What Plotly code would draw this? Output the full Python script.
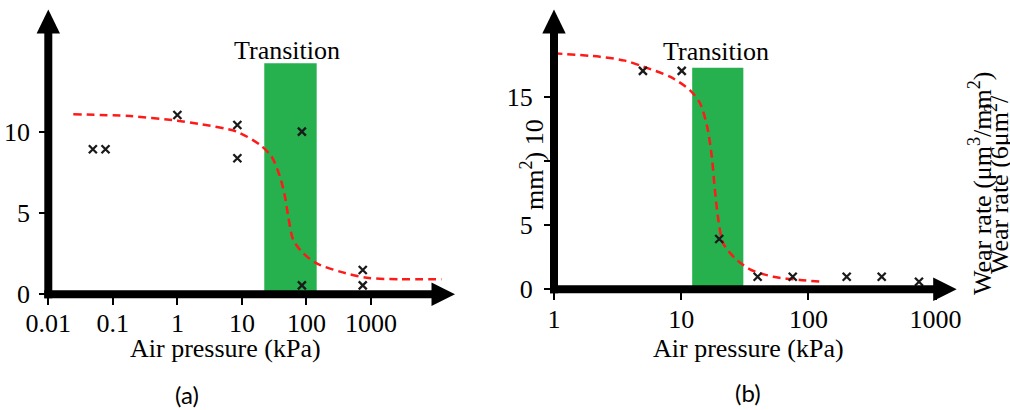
import plotly.graph_objects as go

W, H = 1010, 410

# ---------------- data: panel (a) ----------------
a_pressure = [0.049, 0.077, 1.0, 8.5, 8.5, 85, 85, 745, 745]
a_wear = [8.95, 8.95, 11.07, 10.45, 8.40, 10.04, 0.55, 1.50, 0.55]
a_fit_pressure = [0.0244, 0.185, 1.0, 2.24, 8.3, 19.1, 28.9, 38.9, 46.5, 52.3,
                  62.5, 89.3, 144, 331, 857, 2812, 12450]
a_fit_wear = [11.11, 11.0, 10.72, 10.51, 10.04, 9.22, 8.49, 7.26, 6.02, 4.79,
              3.35, 2.53, 1.91, 1.40, 1.02, 0.93, 0.93]
a_transition = [22.2, 144]
a_transition_top = 14.26
a_xticks = [0.01, 0.1, 1, 10, 100, 1000]
a_xticktext = ["0.01", "0.1", "1", "10", "100", "1000"]
a_yticks = [0, 5, 10]
a_yticktext = ["0", "5", "10"]

# ---------------- data: panel (b) ----------------
b_pressure = [5.0, 10.1, 19.9, 39.9, 75.3, 200, 377, 740]
b_wear = [17.0, 17.0, 3.91, 0.97, 0.97, 0.97, 0.97, 0.58]
b_fit_pressure = [1.0, 2.3, 3.62, 5.04, 8.17, 11.7, 14.06, 16.0, 17.4, 18.4,
                  19.6, 21.4, 26.5, 34.7, 53, 85.9, 131]
b_fit_wear = [18.37, 18.1, 17.80, 17.33, 16.55, 15.51, 14.48, 12.66, 10.32, 7.73,
              5.39, 3.57, 2.41, 1.55, 0.97, 0.72, 0.58]
b_transition = [12.2, 30.8]
b_transition_top = 17.25
b_xticks = [1, 10, 100, 1000]
b_xticktext = ["1", "10", "100", "1000"]
b_yticks = [0, 5, 10, 15]
b_yticktext = ["0", "5", "", "15"]

SERIF = "Liberation Serif"
SANS = "Lato"
RED = "#FF1A1A"
GREEN = "#26B04E"


def px(x):
    return x / W


def py(y):
    return 1 - y / H


fig = go.Figure()

for xs, ys, fx, fy, xa, ya in [
    (a_pressure, a_wear, a_fit_pressure, a_fit_wear, "x", "y"),
    (b_pressure, b_wear, b_fit_pressure, b_fit_wear, "x2", "y2"),
]:
    fig.add_trace(go.Scatter(
        x=fx, y=fy, mode="lines", xaxis=xa, yaxis=ya,
        line=dict(color=RED, width=2.5, dash="8px,5px", shape="spline", smoothing=0.8),
        showlegend=False, hoverinfo="skip"))
    fig.add_trace(go.Scatter(
        x=xs, y=ys, mode="markers", xaxis=xa, yaxis=ya,
        marker=dict(symbol="x-thin", size=8, line=dict(color="#1a1a1a", width=2.3)),
        showlegend=False, hoverinfo="skip"))

# transition bands
fig.add_shape(type="rect", xref="x", yref="y", x0=a_transition[0], x1=a_transition[1],
              y0=0, y1=a_transition_top, fillcolor=GREEN, line=dict(width=0), layer="below")
fig.add_shape(type="rect", xref="x2", yref="y2", x0=b_transition[0], x1=b_transition[1],
              y0=0, y1=b_transition_top, fillcolor=GREEN, line=dict(width=0), layer="below")

# thick axis lines with arrowheads (decorations, pixel based)
LW = 8


def axis_arrows(ox, oy, ytip, xtip):
    fig.add_shape(type="rect", xref="paper", yref="paper",
                  x0=px(ox - LW / 2), x1=px(ox + LW / 2), y0=py(oy + LW / 2), y1=py(ytip + 23),
                  fillcolor="black", line=dict(width=0), layer="above")
    fig.add_shape(type="path", xref="paper", yref="paper",
                  path=f"M {px(ox - 11.7)} {py(ytip + 24)} L {px(ox + 11.7)} {py(ytip + 24)} L {px(ox)} {py(ytip)} Z",
                  fillcolor="black", line=dict(width=0), layer="above")
    fig.add_shape(type="rect", xref="paper", yref="paper",
                  x0=px(ox - LW / 2), x1=px(xtip - 22), y0=py(oy + LW / 2), y1=py(oy - LW / 2),
                  fillcolor="black", line=dict(width=0), layer="above")
    fig.add_shape(type="path", xref="paper", yref="paper",
                  path=f"M {px(xtip - 23.5)} {py(oy - 11.7)} L {px(xtip - 23.5)} {py(oy + 11.7)} L {px(xtip)} {py(oy)} Z",
                  fillcolor="black", line=dict(width=0), layer="above")


A_L, A_R, A_T, A_B = 48.3, 455.0, 9.5, 294.3
B_L, B_R, B_T, B_B = 554.0, 956.7, 9.5, 289.2
axis_arrows(A_L, A_B, A_T, A_R)
axis_arrows(B_L, B_B, B_T, B_R)

tickfont = dict(family=SERIF, size=26, color="black")
common = dict(showgrid=False, zeroline=False, showline=False, ticks="outside",
              tickwidth=2, tickcolor="black", tickfont=tickfont, automargin=False,
              fixedrange=True)

fig.update_layout(
    width=W, height=H, template="none",
    font=dict(family=SERIF, color="black"),
    margin=dict(l=0, r=0, t=0, b=0, autoexpand=False),
    paper_bgcolor="white", plot_bgcolor="rgba(0,0,0,0)",
    xaxis=dict(type="log", range=[-2, -2 + (A_R - A_L) / 64.54], domain=[px(A_L), px(A_R)],
               tickvals=a_xticks, ticktext=a_xticktext, ticklen=10, ticklabelstandoff=-5,
               anchor="y", **common),
    yaxis=dict(range=[0, (A_B - A_T) / 16.2], domain=[py(A_B), py(A_T)],
               tickvals=a_yticks, ticktext=a_yticktext, ticklen=8, ticklabelstandoff=4,
               anchor="x", **common),
    xaxis2=dict(type="log", range=[0, (B_R - B_L) / 127.2], domain=[px(B_L), px(B_R)],
                tickvals=b_xticks, ticktext=b_xticktext, ticklen=10, ticklabelstandoff=-3,
                anchor="y2", **common),
    yaxis2=dict(range=[0, (B_B - B_T) / 12.84], domain=[py(B_B), py(B_T)],
                tickvals=b_yticks, ticktext=b_yticktext, ticklen=9, ticklabelstandoff=6,
                anchor="x2", **common),
)


def label(text, x, y, size=26, family=SERIF, angle=0):
    fig.add_annotation(text=text, x=px(x), y=py(y), xref="paper", yref="paper",
                       showarrow=False, xanchor="center", yanchor="middle",
                       textangle=angle, font=dict(family=family, size=size, color="black"))


label("Transition", 286.7, 50)
label("Transition", 716, 51)
label("Air pressure (kPa)", 225.5, 348)
label("Air pressure (kPa)", 748.7, 348)
label("(a)", 187, 394, size=24, family=SANS)
label("(b)", 748.3, 392, size=24, family=SANS)
label("mm<sup>2</sup>) 10", 532, 165, angle=-90)
label("Wear rate (μm<sup>3</sup>/mm<sup>2</sup>)", 981, 183, angle=-90)
label("Wear rate (6μm<sup>2</sup>/", 998, 185, angle=-90)

fig.write_html("out.html", config={"displayModeBar": False},
               post_script="document.body.style.margin='0';document.body.style.padding='0';")
